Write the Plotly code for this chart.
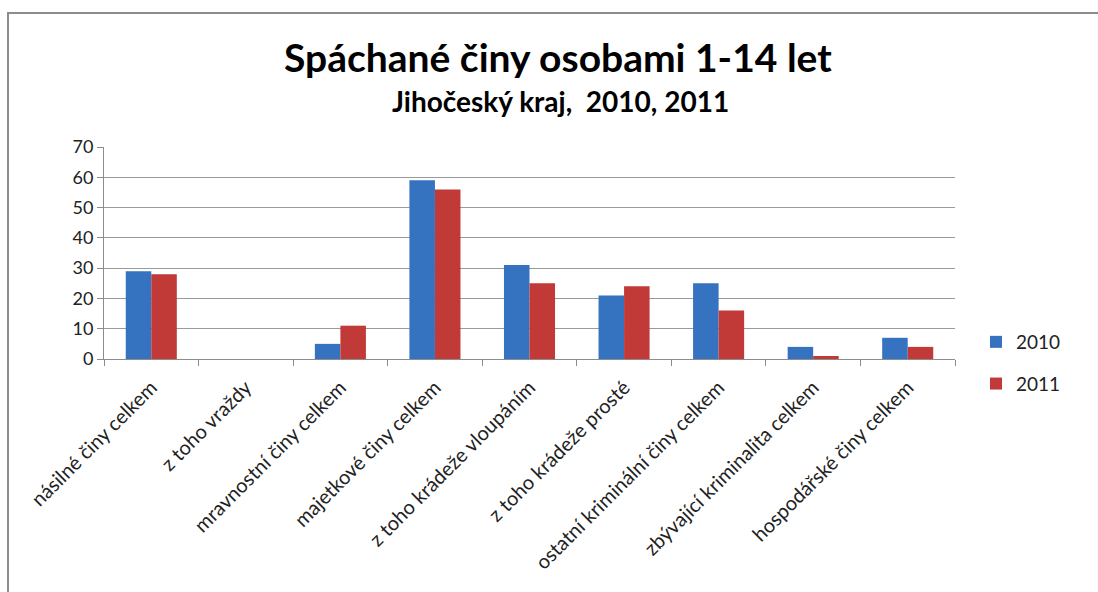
"""Spáchané činy osobami 1-14 let, Jihočeský kraj 2010 a 2011 – grouped bars."""

import plotly.graph_objects as go

categories = [
    "násilné činy celkem",
    "z toho vraždy",
    "mravnostní činy celkem",
    "majetkové činy celkem",
    "z toho krádeže vloupáním",
    "z toho krádeže prosté",
    "ostatní kriminální činy celkem",
    "zbývající kriminalita celkem",
    "hospodářské činy celkem",
]
values_2010 = [29, 0, 5, 59, 31, 21, 25, 4, 7]
values_2011 = [28, 0, 11, 56, 25, 24, 16, 1, 4]
y_ticks = [0, 10, 20, 30, 40, 50, 60, 70]

FONT = "Lato, Open Sans, sans-serif"

# plot area in pixels (for placing the outer frame & titles)
W, H = 1098, 592
L, R, T, B = 104, 143, 147, 233
pw, ph = W - L - R, H - T - B


def px_x(x):
    return (x - L) / pw


def px_y(y):
    return (H - B - y) / ph


fig = go.Figure()
fig.add_trace(go.Bar(x=categories, y=values_2010, name="2010", legendgroup="a",
                     marker={"color": "#3572c0", "line": {"width": 0}}))
fig.add_trace(go.Bar(x=categories, y=values_2011, name="2011", legendgroup="b",
                     marker={"color": "#c23a37", "line": {"width": 0}}))

fig.add_shape(type="rect", xref="paper", yref="paper",
              x0=px_x(8), x1=px_x(1200), y0=px_y(700), y1=px_y(13),
              line={"color": "#8c8c8c", "width": 2}, layer="below")

fig.add_annotation(text="<b>Spáchané činy osobami 1-14 let</b>", xref="paper", yref="paper",
                   x=px_x(558), y=px_y(57), xanchor="center", yanchor="middle",
                   showarrow=False, font={"family": FONT, "size": 39, "color": "#000"})
fig.add_annotation(text="<b>Jihočeský kraj,  2010, 2011</b>", xref="paper", yref="paper",
                   x=px_x(560), y=px_y(101), xanchor="center", yanchor="middle",
                   showarrow=False, font={"family": FONT, "size": 28, "color": "#000"})

fig.update_layout(
    width=W, height=H,
    margin={"l": L, "r": R, "t": T, "b": B},
    paper_bgcolor="white", plot_bgcolor="white",
    barmode="group", bargap=0.46, bargroupgap=0,
    font={"family": FONT, "size": 16, "color": "#222"},
    showlegend=True,
    legend={"x": px_x(976), "y": px_y(323), "xanchor": "left", "yanchor": "top",
            "font": {"size": 19, "color": "#222"}, "tracegroupgap": 14,
            "itemwidth": 30},
    xaxis={"tickangle": -45, "ticks": "outside", "tickson": "boundaries",
           "ticklen": 6, "tickcolor": "#8c8c8c", "showline": True,
           "linecolor": "#8c8c8c", "linewidth": 1, "showgrid": False,
           "ticklabelstandoff": 8, "tickfont": {"size": 20}},
    yaxis={"range": [0, 70], "tickvals": y_ticks, "ticks": "outside",
           "ticklen": 6, "tickcolor": "#8c8c8c", "showline": True,
           "linecolor": "#8c8c8c", "linewidth": 1, "gridcolor": "#9a9a9a",
           "gridwidth": 1, "zeroline": False, "tickfont": {"size": 18}},
)

fig.write_html("out.html", config={"displayModeBar": False},
               post_script="document.body.style.margin='0';")
